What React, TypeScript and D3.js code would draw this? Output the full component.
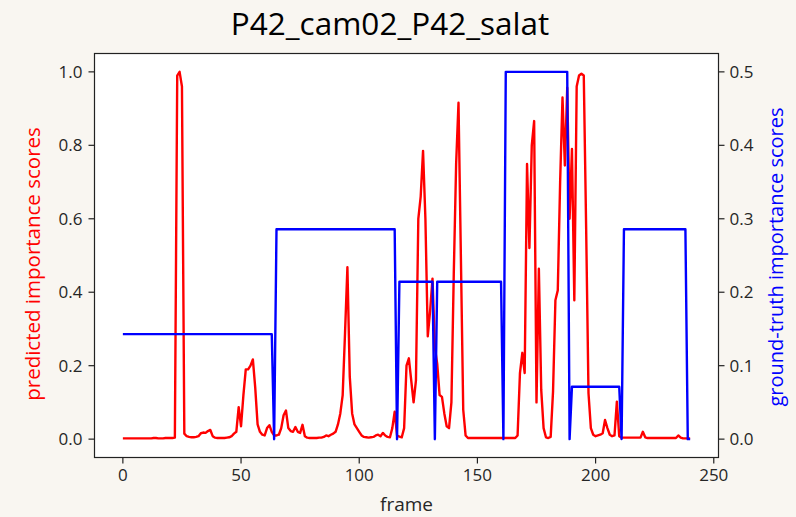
import React from "react";
import * as d3 from "d3";

const title = "P42_cam02_P42_salat";

// predicted importance scores, one per frame (0..240)
const predicted: number[] = [
  0.002, 0.002, 0.002, 0.002, 0.002, 0.002, 0.002, 0.002, 0.002, 0.002,
  0.002, 0.002, 0.002, 0.003, 0.003, 0.002, 0.002, 0.002, 0.003, 0.003,
  0.003, 0.003, 0.004, 0.99, 1.0, 0.96, 0.015, 0.008, 0.006, 0.005,
  0.005, 0.006, 0.008, 0.016, 0.018, 0.017, 0.022, 0.025, 0.008, 0.004,
  0.003, 0.003, 0.003, 0.003, 0.004, 0.005, 0.008, 0.015, 0.02, 0.087,
  0.035, 0.12, 0.19, 0.19, 0.2, 0.217, 0.14, 0.04, 0.02, 0.012,
  0.01, 0.03, 0.038, 0.02, 0.01, 0.01, 0.012, 0.03, 0.065, 0.078,
  0.03, 0.022, 0.02, 0.033, 0.02, 0.017, 0.039, 0.008, 0.004, 0.003,
  0.003, 0.003, 0.003, 0.004, 0.004, 0.006, 0.01, 0.008, 0.012, 0.015,
  0.02, 0.04, 0.07, 0.12, 0.29, 0.468, 0.17, 0.07, 0.04, 0.03,
  0.02, 0.01, 0.006, 0.005, 0.004, 0.005, 0.006, 0.01, 0.012, 0.008,
  0.017, 0.01, 0.006, 0.005, 0.03, 0.075, 0.01, 0.007, 0.005, 0.03,
  0.2, 0.22, 0.16, 0.1, 0.16, 0.6, 0.66, 0.785, 0.6, 0.28,
  0.35, 0.437, 0.25, 0.205, 0.12, 0.115, 0.07, 0.035, 0.03, 0.1,
  0.45, 0.75, 0.916, 0.5, 0.08, 0.01, 0.003, 0.003, 0.003, 0.003,
  0.003, 0.003, 0.003, 0.003, 0.003, 0.003, 0.003, 0.003, 0.003, 0.003,
  0.003, 0.003, 0.003, 0.003, 0.003, 0.003, 0.003, 0.01, 0.18, 0.235,
  0.18, 0.749, 0.52, 0.8, 0.866, 0.1, 0.464, 0.134, 0.03, 0.005,
  0.003, 0.006, 0.13, 0.378, 0.405, 0.7, 0.93, 0.745, 0.957, 0.6,
  0.79, 0.378, 0.96, 0.99, 0.995, 0.99, 0.577, 0.125, 0.03, 0.012,
  0.008, 0.01, 0.012, 0.016, 0.052, 0.03, 0.012, 0.008, 0.01, 0.102,
  0.008, 0.004, 0.004, 0.004, 0.004, 0.004, 0.004, 0.004, 0.004, 0.004,
  0.02, 0.005, 0.003, 0.003, 0.003, 0.003, 0.003, 0.003, 0.003, 0.003,
  0.003, 0.003, 0.003, 0.003, 0.003, 0.01, 0.004, 0.002, 0.002, 0.002,
  0.002,
];

// ground-truth importance scores as runs: [firstFrame, lastFrame, value]
const groundTruthRuns: [number, number, number][] = [
  [0, 63, 0.1429],
  [64, 64, 0],
  [65, 115, 0.2857],
  [116, 116, 0],
  [117, 131, 0.2143],
  [132, 132, 0],
  [133, 160, 0.2143],
  [161, 161, 0],
  [162, 188, 0.5],
  [189, 189, 0],
  [190, 210, 0.0714],
  [211, 211, 0],
  [212, 238, 0.2857],
  [239, 240, 0],
];

const xTicks = [0, 50, 100, 150, 200, 250];
const leftTicks = [0, 0.2, 0.4, 0.6, 0.8, 1.0];
const rightTicks = [0, 0.1, 0.2, 0.3, 0.4, 0.5];

const W = 796;
const H = 517;
const L = 94.5;
const R = 718.5;
const T = 53.5;
const B = 457.5;
const FONT = "'Open Sans', 'DejaVu Sans', sans-serif";
const TICK_FS = 17;

export default function App() {
  const x = d3.scaleLinear().domain([-12, 252]).range([L, R]);
  const yL = d3.scaleLinear().domain([-0.05, 1.05]).range([B, T]);
  const yR = d3.scaleLinear().domain([-0.025, 0.525]).range([B, T]);

  const predPts: [number, number][] = predicted.map((v, i) => [i, v]);
  const gtPts: [number, number][] = [];
  groundTruthRuns.forEach(([a, b, v]) => {
    for (let f = a; f <= b; f++) gtPts.push([f, v]);
  });

  const predLine = d3
    .line<[number, number]>()
    .x((d) => x(d[0]))
    .y((d) => yL(d[1]));
  const gtLine = d3
    .line<[number, number]>()
    .x((d) => x(d[0]))
    .y((d) => yR(d[1]));

  const fmt1 = d3.format(".1f");

  return (
    <svg
      width={W}
      height={H}
      style={{ display: "block", position: "absolute", left: 0, top: 0 }}
    >
      <rect x={0} y={0} width={W} height={H} fill="#f9f6f1" />
      <rect x={L} y={T} width={R - L} height={B - T} fill="#ffffff" />
      <defs>
        <clipPath id="plotclip">
          <rect x={L} y={T} width={R - L} height={B - T} />
        </clipPath>
      </defs>
      <g clipPath="url(#plotclip)">
        <path
          d={predLine(predPts) || ""}
          fill="none"
          stroke="#ff0000"
          strokeWidth={2.4}
          strokeLinejoin="round"
        />
        <path
          d={gtLine(gtPts) || ""}
          fill="none"
          stroke="#0000ff"
          strokeWidth={2.4}
          strokeLinejoin="round"
        />
      </g>
      <rect
        x={L}
        y={T}
        width={R - L}
        height={B - T}
        fill="none"
        stroke="#222"
        strokeWidth={1.2}
      />
      {xTicks.map((t) => (
        <g key={"x" + t}>
          <line x1={x(t)} x2={x(t)} y1={B} y2={B + 6} stroke="#222" strokeWidth={1.2} />
          <text
            x={x(t)}
            y={B + 23}
            textAnchor="middle"
            fontFamily={FONT}
            fontSize={TICK_FS}
            fill="#262626"
          >
            {t}
          </text>
        </g>
      ))}
      {leftTicks.map((t) => (
        <g key={"l" + t}>
          <line x1={L - 6} x2={L} y1={yL(t)} y2={yL(t)} stroke="#222" strokeWidth={1.2} />
          <text
            x={L - 12}
            y={yL(t)}
            dy="0.35em"
            textAnchor="end"
            fontFamily={FONT}
            fontSize={TICK_FS}
            fill="#262626"
          >
            {fmt1(t)}
          </text>
        </g>
      ))}
      {rightTicks.map((t) => (
        <g key={"r" + t}>
          <line x1={R} x2={R + 6} y1={yR(t)} y2={yR(t)} stroke="#222" strokeWidth={1.2} />
          <text
            x={R + 11}
            y={yR(t)}
            dy="0.35em"
            textAnchor="start"
            fontFamily={FONT}
            fontSize={TICK_FS}
            fill="#262626"
          >
            {fmt1(t)}
          </text>
        </g>
      ))}
      <text
        x={(L + R) / 2}
        y={511}
        textAnchor="middle"
        fontFamily={FONT}
        fontSize={19}
        fill="#262626"
      >
        frame
      </text>
      <text
        transform={`translate(40, 264) rotate(-90)`}
        textAnchor="middle"
        fontFamily={FONT}
        fontSize={20.5}
        fill="#ff0000"
      >
        predicted importance scores
      </text>
      <text
        transform={`translate(783, 257) rotate(-90)`}
        textAnchor="middle"
        fontFamily={FONT}
        fontSize={20}
        fill="#0000ff"
      >
        ground-truth importance scores
      </text>
      <text
        x={390}
        y={35}
        textAnchor="middle"
        fontFamily={FONT}
        fontSize={31.5}
        fill="#000000"
      >
        {title}
      </text>
    </svg>
  );
}
